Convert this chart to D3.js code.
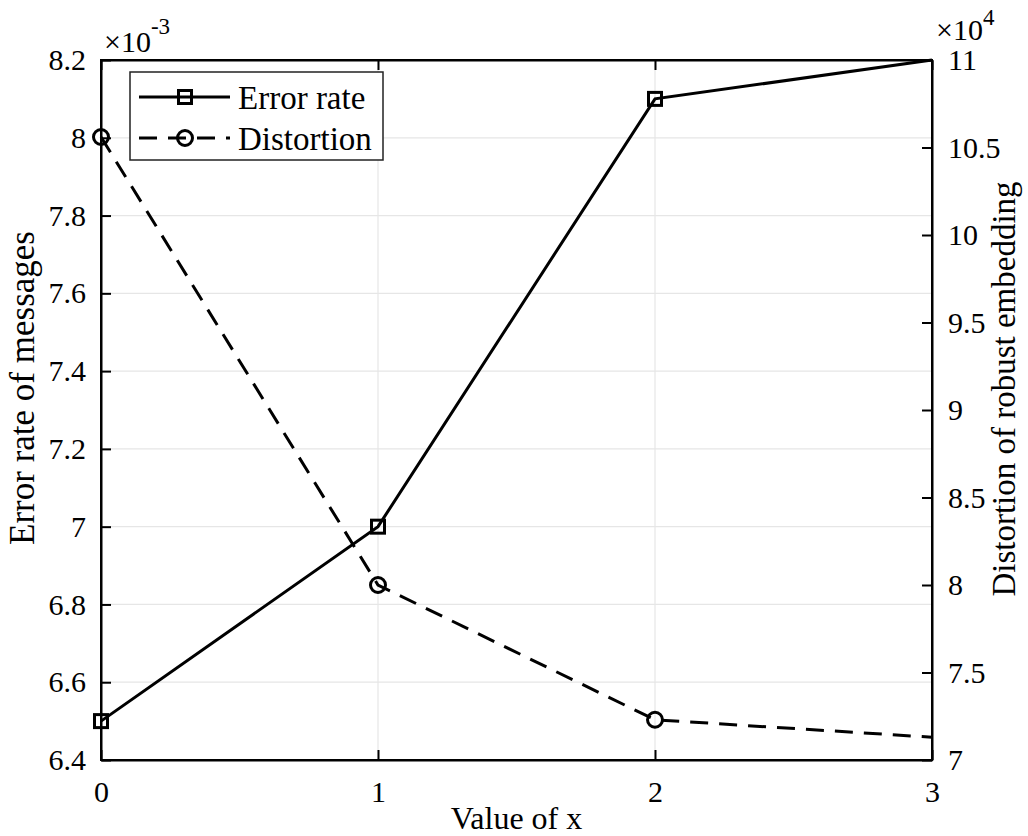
<!DOCTYPE html>
<html><head><meta charset="utf-8">
<script src="https://cdn.jsdelivr.net/npm/d3@7"></script>
<style>body{margin:0;background:#fff}svg{display:block}</style>
</head><body>
<svg id="c" width="1028" height="836"></svg>
<script>
const xValues = [0, 1, 2, 3];
const errorRate = [6.5, 7.0, 8.1, 8.2];          // x 10^-3
const distortion = [10.56, 8.0, 7.23, 7.13];      // x 10^4
const xTicks = [0, 1, 2, 3];
const leftTicks = [6.4, 6.6, 6.8, 7, 7.2, 7.4, 7.6, 7.8, 8, 8.2];
const rightTicks = [7, 7.5, 8, 8.5, 9, 9.5, 10, 10.5, 11];
const seriesNames = ["Error rate", "Distortion"];

const FONT = "'Liberation Serif', 'Times New Roman', serif";
const svg = d3.select("#c");
const L = 101, R = 932, T = 60, B = 760;
const x = d3.scaleLinear().domain([0, 3]).range([L, R]);
const yL = d3.scaleLinear().domain([6.4, 8.2]).range([B, T]);
const yR = d3.scaleLinear().domain([7, 11]).range([B, T]);

// grid
const g = svg.append("g");
g.selectAll(".gx").data(xTicks.slice(1, -1)).join("line")
  .attr("x1", d => x(d)).attr("x2", d => x(d)).attr("y1", T).attr("y2", B)
  .attr("stroke", "#e6e6e6").attr("stroke-width", 1.2);
g.selectAll(".gy").data(leftTicks.slice(1, -1)).join("line")
  .attr("x1", L).attr("x2", R).attr("y1", d => yL(d)).attr("y2", d => yL(d))
  .attr("stroke", "#e6e6e6").attr("stroke-width", 1.2);

// axes
const fs = "30px";
const ax = svg.append("g").attr("transform", `translate(0,${B})`)
  .call(d3.axisBottom(x).tickValues(xTicks).tickFormat(d3.format("d")).tickSizeInner(-10).tickSizeOuter(0).tickPadding(0));
const axT = svg.append("g").attr("transform", `translate(0,${T})`)
  .call(d3.axisTop(x).tickValues(xTicks).tickFormat("").tickSizeInner(-10).tickSizeOuter(0));
const ayL = svg.append("g").attr("transform", `translate(${L},0)`)
  .call(d3.axisLeft(yL).tickValues(leftTicks).tickFormat(d3.format("~g")).tickSizeInner(-10).tickSizeOuter(0).tickPadding(15));
const ayR = svg.append("g").attr("transform", `translate(${R},0)`)
  .call(d3.axisRight(yR).tickValues(rightTicks).tickFormat(d3.format("~g")).tickSizeInner(-10).tickSizeOuter(0).tickPadding(16));
[ax, axT, ayL, ayR].forEach(a => {
  a.attr("font-family", null).attr("font-size", null);
  a.selectAll("path").attr("stroke", "#000").attr("stroke-width", 2);
  a.selectAll("line").attr("stroke", "#000").attr("stroke-width", 2);
  a.selectAll("text").style("font-size", fs).style("font-family", FONT).style("fill", "#000");
});
ax.selectAll("text").attr("y", 42).attr("dy", 0);
svg.append("rect").attr("x", L).attr("y", T).attr("width", R - L).attr("height", B - T)
  .attr("fill", "none").attr("stroke", "#000").attr("stroke-width", 2);

// lines
const lineL = d3.line().x((d, i) => x(xValues[i])).y(d => yL(d));
const lineR = d3.line().x((d, i) => x(xValues[i])).y(d => yR(d));
svg.append("path").datum(errorRate).attr("d", lineL).attr("fill", "none")
  .attr("stroke", "#000").attr("stroke-width", 3);
svg.append("path").datum(distortion).attr("d", lineR).attr("fill", "none")
  .attr("stroke", "#000").attr("stroke-width", 3).attr("stroke-dasharray", "18,11");

const sq = 13, cr = 7.5;
svg.selectAll(".sq").data(errorRate.slice(0, 3)).join("rect")
  .attr("x", (d, i) => x(xValues[i]) - sq / 2).attr("y", d => yL(d) - sq / 2)
  .attr("width", sq).attr("height", sq).attr("fill", "none").attr("stroke", "#000").attr("stroke-width", 3);
svg.selectAll(".cr").data(distortion.slice(0, 3)).join("circle")
  .attr("cx", (d, i) => x(xValues[i])).attr("cy", d => yR(d)).attr("r", cr)
  .attr("fill", "none").attr("stroke", "#000").attr("stroke-width", 3);

function txt(sel) { return sel.style("font-family", FONT).style("fill", "#000"); }

// exponent labels
const e1 = txt(svg.append("text")).attr("x", 104).attr("y", 52).style("font-size", "30px");
e1.append("tspan").text("×10");
e1.append("tspan").attr("dy", -18).style("font-size", "23px").text("-3");
const e2 = txt(svg.append("text")).attr("x", 936).attr("y", 40).style("font-size", "30px");
e2.append("tspan").text("×10");
e2.append("tspan").attr("dy", -15).style("font-size", "23px").text("4");

// axis titles
txt(svg.append("text")).attr("x", (L + R) / 2).attr("y", 829).attr("text-anchor", "middle").style("font-size", "32px").text("Value of x");
txt(svg.append("text")).attr("transform", "translate(34,388) rotate(-90)").attr("text-anchor", "middle").style("font-size", "35px").text("Error rate of messages");
txt(svg.append("text")).attr("transform", "translate(1015,389) rotate(-90)").attr("text-anchor", "middle").style("font-size", "33px").text("Distortion of robust embedding");

// legend
const lg = svg.append("g");
lg.append("rect").attr("x", 130).attr("y", 72).attr("width", 253).attr("height", 88)
  .attr("fill", "#fff").attr("stroke", "#222").attr("stroke-width", 1.5);
const ly = [97, 138];
lg.append("line").attr("x1", 139).attr("x2", 230).attr("y1", ly[0]).attr("y2", ly[0]).attr("stroke", "#000").attr("stroke-width", 3);
lg.append("rect").attr("x", 185 - sq / 2).attr("y", ly[0] - sq / 2).attr("width", sq).attr("height", sq)
  .attr("fill", "none").attr("stroke", "#000").attr("stroke-width", 3);
lg.append("line").attr("x1", 139).attr("x2", 230).attr("y1", ly[1]).attr("y2", ly[1]).attr("stroke", "#000").attr("stroke-width", 3).attr("stroke-dasharray", "18,11");
lg.append("circle").attr("cx", 185).attr("cy", ly[1]).attr("r", cr)
  .attr("fill", "none").attr("stroke", "#000").attr("stroke-width", 3);
lg.selectAll(".lt").data(seriesNames).join("text")
  .style("font-family", FONT).style("fill", "#000")
  .attr("x", 238).attr("y", (d, i) => ly[i]).attr("dy", "0.35em").style("font-size", "33px").text(d => d);
</script>
</body></html>
